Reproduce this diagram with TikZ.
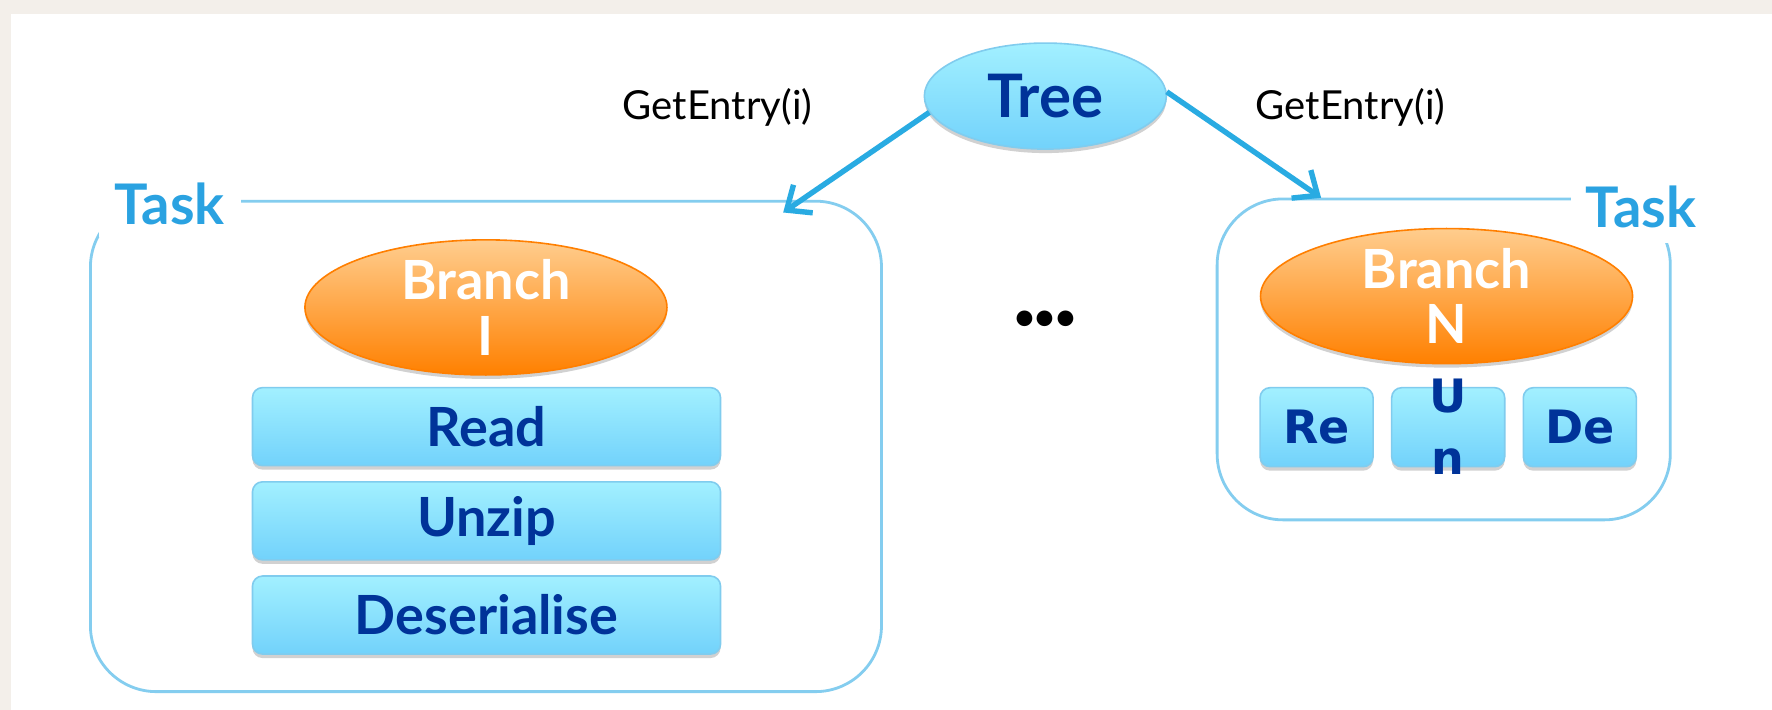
\documentclass[tikz,border=0pt]{standalone}
\usepackage{fontspec}
\setmainfont{Lato}
\newfontfamily\smallboxfont{DejaVu Sans}
\usepackage{tikz}
\usetikzlibrary{
  shapes.geometric,%
  arrows.meta,%
  shadows,%
  positioning
}
\definecolor{paper}{HTML}{F3EFEA}
\definecolor{taskblue}{HTML}{2AA2E1}
\definecolor{taskline}{HTML}{84CDEF}
\definecolor{arrowblue}{HTML}{29ABE2}
\definecolor{navy}{HTML}{003399}
\definecolor{cyantop}{HTML}{A2F0FF}
\definecolor{cyanbot}{HTML}{72D2FB}
\definecolor{cyanline}{HTML}{80CCEE}
\definecolor{orangetop}{HTML}{FFCD8E}
\definecolor{orangebot}{HTML}{FF8000}
\definecolor{orangeline}{HTML}{FF7F00}
\tikzset{>={Straight Barb[length=10pt, width=17pt]}}
\tikzset{
  softshadow/.style={drop shadow={shadow xshift=0pt, shadow yshift=-2pt, opacity=0.18, fill=black}},
  treenode/.style={ellipse, draw=cyanline, line width=0.8pt, top color=cyantop, bottom color=cyanbot,
    minimum width=121pt, minimum height=53pt, inner sep=0pt, text=navy,
    font=\fontsize{30}{33}\selectfont\bfseries, softshadow},
  branchnode/.style={ellipse, draw=orangeline, line width=0.8pt, top color=orangetop, bottom color=orangebot,
    inner sep=0pt, text=white, align=center, font=\fontsize{27}{27.7}\selectfont\bfseries, softshadow},
  stagebox/.style={rectangle, rounded corners=5pt, draw=cyanline, line width=0.8pt, top color=cyantop,
    bottom color=cyanbot, minimum width=234pt, minimum height=39pt, inner sep=0pt, text=navy,
    font=\fontsize{27}{30}\selectfont\bfseries, softshadow},
  smallbox/.style={stagebox, minimum width=56.5pt, minimum height=39.5pt, font=\smallboxfont\fontsize{23}{28}\selectfont\bfseries},
  tasklabel/.style={fill=white, text=taskblue, inner sep=0pt, font=\fontsize{28}{30}\selectfont\bfseries},
  taskframe/.style={draw=taskline, line width=1.4pt, rounded corners=33pt},
  callarrow/.style={->, draw=arrowblue, line width=2.7pt},
  calltext/.style={font=\fontsize{20}{23}\selectfont}
}

\begin{document}
\begin{tikzpicture}[x=0.565pt, y=-0.565pt]
  \useasboundingbox (0,0) rectangle (1568,628);
  \fill[paper] (0,0) rectangle (1568,628); %
  \fill[white] (10,12) rectangle (1568,628); %

  % task frames
  \draw[taskframe] (80,178) rectangle (780,612); %
  \draw[taskframe] (1077,176) rectangle (1478,460); %
  \node[tasklabel, minimum width=71pt, minimum height=34pt] (taskL) at (150,180) {Task}; %
  \node[tasklabel, minimum width=70pt, minimum height=36pt] (taskR) at (1452,183) {Task}; %

  % tree and calls
  \node[treenode] (tree) at (925,85) {Tree}; %
  \coordinate (tipL) at (693,188); %
  \coordinate (tipR) at (1169,175); %
  \draw[callarrow] (tree.188) -- (tipL); %
  \draw[callarrow] (tree.2) -- (tipR); %
  \node[calltext] (getL) at (635,95) {GetEntry(i)}; %
  \node[calltext] (getR) at (1195,95) {GetEntry(i)}; %
  \node[font=\fontsize{18}{20}\selectfont\bfseries] (dots) at (925,283) {\textbullet\textbullet\textbullet}; %

  % first branch
  \node[branchnode, minimum width=181pt, minimum height=56.5pt] (branchI) at (430,272) {Branch\\I}; %
  \node[stagebox] (read) at (430.5,377.5) {Read}; %
  \node[stagebox, below=7.3pt of read] (unzip) {Unzip}; %
  \node[stagebox, below=7.3pt of unzip] (deser) {Deserialise}; %

  % last branch
  \node[branchnode, minimum width=186pt, minimum height=59pt] (branchN) at (1280,262) {Branch\\N}; %
  \node[smallbox] (re) at (1165,378) {Re}; %
  \node[smallbox, right=8.5pt of re] (un) {}; %
  \node[smallbox, right=8.5pt of un] (de) {De}; %
  \node[text=navy, align=center, inner sep=0pt, font=\smallboxfont\fontsize{23}{31}\selectfont\bfseries] (untext) at (un) {U\\n}; %
\end{tikzpicture}
\end{document}
